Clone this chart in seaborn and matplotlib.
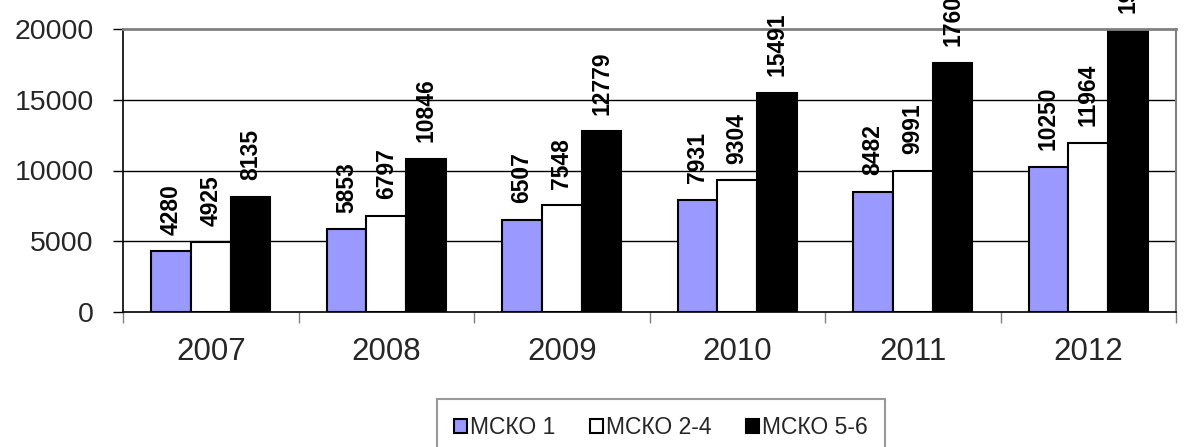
import numpy as np
import pandas as pd
import matplotlib
matplotlib.use("Agg")
import matplotlib.pyplot as plt
from matplotlib.patches import Patch
import seaborn as sns

years = ["2007", "2008", "2009", "2010", "2011", "2012"]
series_names = ["МСКО 1", "МСКО 2-4", "МСКО 5-6"]
msko_1 = [4280, 5853, 6507, 7931, 8482, 10250]
msko_2_4 = [4925, 6797, 7548, 9304, 9991, 11964]
msko_5_6 = [8135, 10846, 12779, 15491, 17605, 19960]
colors = ["#9999FF", "#FFFFFF", "#000000"]
y_ticks = [0, 5000, 10000, 15000, 20000]

df = pd.DataFrame({
    "year": years * 3,
    "series": [series_names[0]] * 6 + [series_names[1]] * 6 + [series_names[2]] * 6,
    "value": msko_1 + msko_2_4 + msko_5_6,
})

sns.set_theme(style="white")
plt.rcParams["font.family"] = ["Liberation Sans", "DejaVu Sans"]

fig = plt.figure(figsize=(12.04, 4.47), dpi=100)
ax = fig.add_axes([123 / 1204, 1 - 312 / 447, (1176 - 123) / 1204, (312 - 29) / 447])

sns.barplot(data=df, x="year", y="value", hue="series", order=years,
            hue_order=series_names, palette=colors, width=0.68,
            edgecolor="black", linewidth=1.5, saturation=1, ax=ax, legend=False)

for cont in ax.containers:
    ax.bar_label(cont, fmt="%d", padding=12, rotation=90, fontsize=16.5,
                 fontweight="bold", color="black")

ax.set_ylim(0, 20000)
ax.set_xlim(-0.5, 5.5)
ax.set_yticks(y_ticks)
ax.set_yticklabels([str(v) for v in y_ticks], fontsize=20.5)
ax.tick_params(axis="y", direction="out", length=7, width=1, color="black",
               pad=14, left=True)
ax.set_xticks(range(len(years)))
ax.set_xticklabels(years, fontsize=22.5)
ax.tick_params(axis="x", which="major", length=0, pad=18)
ax.set_xticks(np.arange(-0.5, 6.0, 1.0), minor=True)
ax.tick_params(axis="x", which="minor", direction="out", length=8, width=1,
               color="#808080", bottom=True)
ax.set_xlabel("")
ax.set_ylabel("")

for v in y_ticks[1:-1]:
    ax.axhline(v, color="black", linewidth=1, zorder=0)
ax.set_axisbelow(True)

ax.spines["left"].set_color("black")
ax.spines["left"].set_linewidth(1.2)
ax.spines["bottom"].set_color("black")
ax.spines["bottom"].set_linewidth(1.2)
ax.spines["top"].set_color("#808080")
ax.spines["top"].set_linewidth(2)
ax.spines["right"].set_color("#808080")
ax.spines["right"].set_linewidth(1.5)

handles = [Patch(facecolor=c, edgecolor="black", linewidth=1.5) for c in colors]
leg = fig.legend(handles, series_names, loc="center",
                 bbox_to_anchor=(661 / 1204, 1 - 428 / 447), ncol=3,
                 fontsize=16.5, frameon=True, fancybox=False, handlelength=0.55,
                 handleheight=0.55, handletextpad=0.15, columnspacing=1.5,
                 borderpad=0.75, borderaxespad=0)
leg.get_frame().set_edgecolor("#808080")
leg.get_frame().set_linewidth(1.5)

fig.savefig("out.png", dpi=100)
